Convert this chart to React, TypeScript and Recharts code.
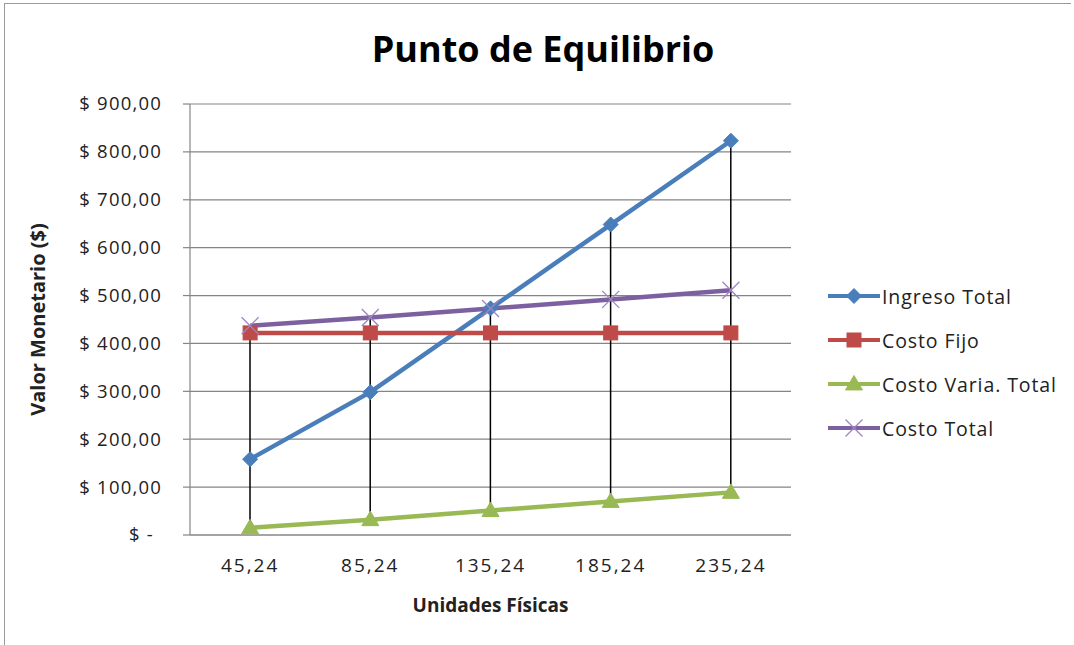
import React from 'react';
import { ComposedChart, Line, Bar, XAxis, YAxis, CartesianGrid, Legend, Label } from 'recharts';

const categories = ['45,24', '85,24', '135,24', '185,24', '235,24'];
const ingresoTotal = [158.3, 298.3, 473.3, 648.3, 823.3];
const costoFijo = [422, 422, 422, 422, 422];
const costoVariable = [15, 32, 51, 70, 89];
const costoTotal = [437, 454, 473, 492, 511];
const yTicks = [0, 100, 200, 300, 400, 500, 600, 700, 800, 900];

const BLUE = '#4A7EBB';
const RED = '#BE4B48';
const GREEN = '#98B954';
const PURPLE = '#7D60A0';
const FONT = '"Open Sans", "Noto Sans", sans-serif';

const data = categories.map((c, i) => {
  const vals = [ingresoTotal[i], costoFijo[i], costoVariable[i], costoTotal[i]];
  return {
    cat: c,
    ingreso: ingresoTotal[i],
    fijo: costoFijo[i],
    variable: costoVariable[i],
    total: costoTotal[i],
    hl: [Math.min(...vals), Math.max(...vals)],
  };
});

const Diamond = (props: any) => {
  const { cx, cy } = props;
  if (cx == null || cy == null) return null;
  const r = 7.5;
  return <path d={`M${cx},${cy - r}L${cx + r},${cy}L${cx},${cy + r}L${cx - r},${cy}Z`} fill={BLUE} stroke={BLUE} strokeWidth={1} />;
};
const Square = (props: any) => {
  const { cx, cy } = props;
  if (cx == null || cy == null) return null;
  const r = 7;
  return <rect x={cx - r} y={cy - r} width={2 * r} height={2 * r} fill={RED} stroke={RED} strokeWidth={1} />;
};
const Triangle = (props: any) => {
  const { cx, cy } = props;
  if (cx == null || cy == null) return null;
  const r = 8.5;
  return <path d={`M${cx},${cy - r}L${cx + r},${cy + r * 0.7}L${cx - r},${cy + r * 0.7}Z`} fill={GREEN} stroke={GREEN} strokeWidth={1} />;
};
const Cross = (props: any) => {
  const { cx, cy } = props;
  if (cx == null || cy == null) return null;
  const r = 8.5;
  return (
    <g stroke="#9D85C2" strokeWidth={1.3}>
      <line x1={cx - r} y1={cy - r} x2={cx + r} y2={cy + r} />
      <line x1={cx - r} y1={cy + r} x2={cx + r} y2={cy - r} />
    </g>
  );
};

const HighLow = (props: any) => {
  const { x, y, width, height } = props;
  const cx = x + width / 2;
  return <line x1={cx} y1={y} x2={cx} y2={y + height} stroke="#000" strokeWidth={1.5} />;
};

const YTick = (props: any) => {
  const { x, y, payload } = props;
  const v = payload.value;
  const label = v === 0 ? '$ -' : `$ ${v.toFixed(2).replace('.', ',')}`;
  return (
    <text x={v === 0 ? x - 27 : x - 19} y={y} dy="0.35em" textAnchor="end" fontSize={18.5} letterSpacing={1.2} fill="#222" fontFamily={FONT}>
      {label}
    </text>
  );
};

const legendItems = [
  { name: 'Ingreso Total', color: BLUE, Marker: Diamond },
  { name: 'Costo Fijo', color: RED, Marker: Square },
  { name: 'Costo Varia. Total', color: GREEN, Marker: Triangle },
  { name: 'Costo Total', color: PURPLE, Marker: Cross },
];

const LegendContent = () => (
  <div style={{ fontFamily: FONT, fontSize: 19.5, letterSpacing: 0.9, color: '#222' }}>
    {legendItems.map((it) => (
      <div key={it.name} style={{ display: 'flex', alignItems: 'center', height: 44 }}>
        <svg width={52} height={20} style={{ display: 'block' }}>
          <line x1={0} y1={10} x2={52} y2={10} stroke={it.color} strokeWidth={4} />
          <it.Marker cx={26} cy={10} />
        </svg>
        <span style={{ marginLeft: 2, whiteSpace: 'nowrap' }}>{it.name}</span>
      </div>
    ))}
  </div>
);

export default function App() {
  return (
    <div style={{ position: 'absolute', left: 0, top: 0, width: 1074, height: 645, background: '#fff', overflow: 'hidden' }}>
      <div style={{ position: 'absolute', left: 4, top: 3, width: 1066, height: 660, borderTop: '1.5px solid #9a9a9a', borderLeft: '1.5px solid #9a9a9a' }} />
      <div style={{ position: 'absolute', left: 0, top: 24, width: 1086, textAlign: 'center', fontFamily: FONT, fontWeight: 700, fontSize: 36, color: '#000' }}>
        Punto de Equilibrio
      </div>
      <div style={{ position: 'absolute', left: 0, top: 0 }}>
        <ComposedChart width={1074} height={645} data={data} margin={{ top: 104, right: 283, bottom: 50, left: 90 }}>
          <CartesianGrid vertical={false} stroke="#858585" strokeWidth={1.2} />
          <XAxis
            dataKey="cat"
            type="category"
            height={60}
            axisLine={{ stroke: '#858585', strokeWidth: 1.2 }}
            tickLine={false}
            tickMargin={18}
            tick={{ fontSize: 19, fill: '#222', fontFamily: FONT, letterSpacing: 2 }}
          >
            <Label value="Unidades Físicas" position="bottom" offset={4} style={{ fontSize: 19, fontWeight: 700, fill: '#222', fontFamily: FONT }} />
          </XAxis>
          <YAxis
            width={100}
            domain={[0, 900]}
            ticks={yTicks}
            interval={0}
            axisLine={{ stroke: '#858585', strokeWidth: 1.2 }}
            tickLine={{ stroke: '#858585', strokeWidth: 1.2 }}
            tickSize={7}
            tick={<YTick />}
          >
            <Label
              content={(p: any) => {
                const vb = p.viewBox;
                const cy = vb.y + vb.height / 2;
                return (
                  <text x={37} y={cy} transform={`rotate(-90 37 ${cy})`} textAnchor="middle" dominantBaseline="central" fontSize={20} fontWeight={700} fill="#222" fontFamily={FONT}>
                    Valor Monetario ($)
                  </text>
                );
              }}
            />
          </YAxis>
          <Legend layout="vertical" verticalAlign="middle" align="center" wrapperStyle={{ left: 828, top: 274, width: 246 }} content={<LegendContent />} />
          <Line dataKey="ingreso" name="Ingreso Total" stroke={BLUE} strokeWidth={4.5} dot={<Diamond />} activeDot={false} isAnimationActive={false} />
          <Line dataKey="fijo" name="Costo Fijo" stroke={RED} strokeWidth={4.5} dot={<Square />} activeDot={false} isAnimationActive={false} />
          <Line dataKey="variable" name="Costo Varia. Total" stroke={GREEN} strokeWidth={4.5} dot={<Triangle />} activeDot={false} isAnimationActive={false} />
          <Line dataKey="total" name="Costo Total" stroke={PURPLE} strokeWidth={4.5} dot={<Cross />} activeDot={false} isAnimationActive={false} />
          <Bar dataKey="hl" barSize={4} legendType="none" shape={<HighLow />} isAnimationActive={false} />
        </ComposedChart>
      </div>
    </div>
  );
}
